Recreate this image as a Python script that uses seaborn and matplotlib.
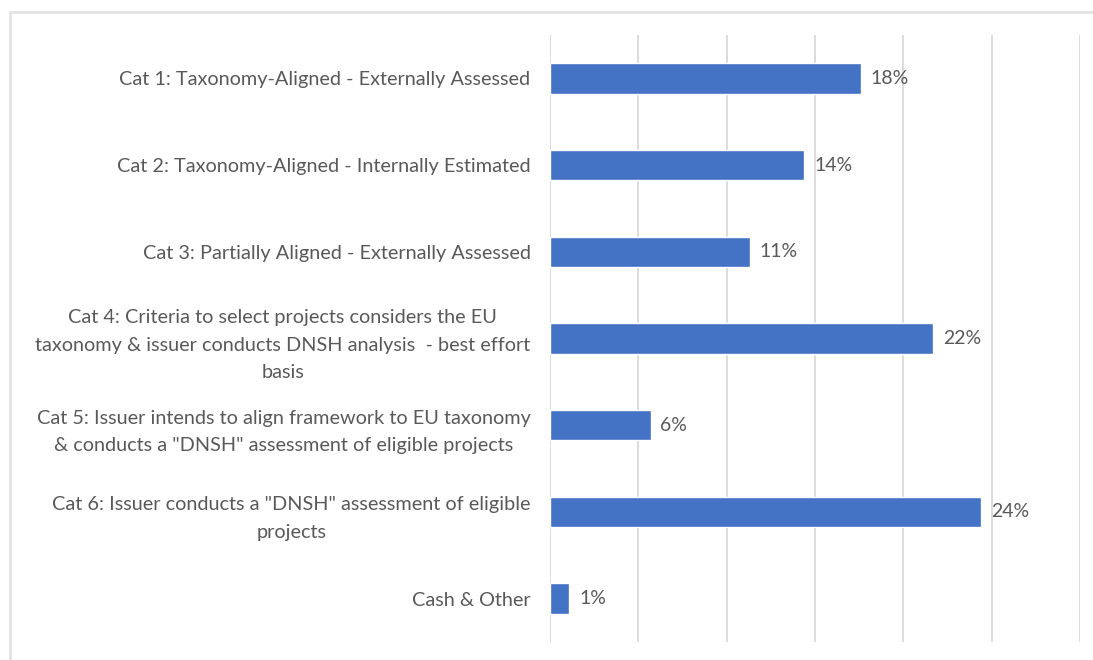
import matplotlib
matplotlib.use("Agg")
import matplotlib.pyplot as plt
from matplotlib.patches import Rectangle
import seaborn as sns
import pandas as pd

# Share of allocation by taxonomy-alignment category (%)
categories = [
    "Cat 1: Taxonomy-Aligned - Externally Assessed",
    "Cat 2: Taxonomy-Aligned - Internally Estimated",
    "Cat 3: Partially Aligned - Externally Assessed",
    "Cat 4: Criteria to select projects considers the EU\ntaxonomy & issuer conducts DNSH analysis  - best effort\nbasis",
    "Cat 5: Issuer intends to align framework to EU taxonomy\n& conducts a \"DNSH\" assessment of eligible projects",
    "Cat 6: Issuer conducts a \"DNSH\" assessment of eligible\nprojects",
    "Cash & Other",
]
shares = [17.6, 14.4, 11.3, 21.7, 5.7, 24.4, 1.1]
grid_ticks = [0, 5, 10, 15, 20, 25, 30]

BAR = "#4472C4"
TEXT = "#595959"
GRID = "#D9D9D9"

df = pd.DataFrame({"category": categories, "share": shares})

sns.set_theme(style="white")
plt.rcParams["font.family"] = ["Lato", "DejaVu Sans"]

fig = plt.figure(figsize=(10.93, 6.6), dpi=100)
ax = fig.add_axes([550 / 1093, 1 - 642 / 660, 530 / 1093, 607 / 660])

sns.barplot(data=df, y="category", x="share", orient="h", color=BAR,
            saturation=1, width=0.35, ax=ax, zorder=3)

ax.set_xlim(grid_ticks[0], grid_ticks[-1])
ax.set_xticks(grid_ticks)
ax.xaxis.grid(True, color=GRID, linewidth=1.3)
ax.set_axisbelow(True)
ax.tick_params(axis="x", length=0, labelbottom=False)
ax.tick_params(axis="y", length=0, pad=14)
for label in ax.get_yticklabels():
    label.set_multialignment("center")
    label.set_color(TEXT)
    label.set_fontsize(14.3)
    label.set_linespacing(1.75)
ax.set_xlabel("")
ax.set_ylabel("")
for side in ax.spines.values():
    side.set_visible(False)

for container in ax.containers:
    ax.bar_label(container, labels=[f"{v:.0f}%" for v in shares],
                 padding=7, color=TEXT, fontsize=14)

# Light outline around the chart area
fig.patches.append(Rectangle((10 / 1093, -0.05), 1.1, 1 - 12 / 660 + 0.05,
                             transform=fig.transFigure, fill=False,
                             edgecolor="#E3E3E3", linewidth=2))

fig.savefig("out.png", dpi=100)
